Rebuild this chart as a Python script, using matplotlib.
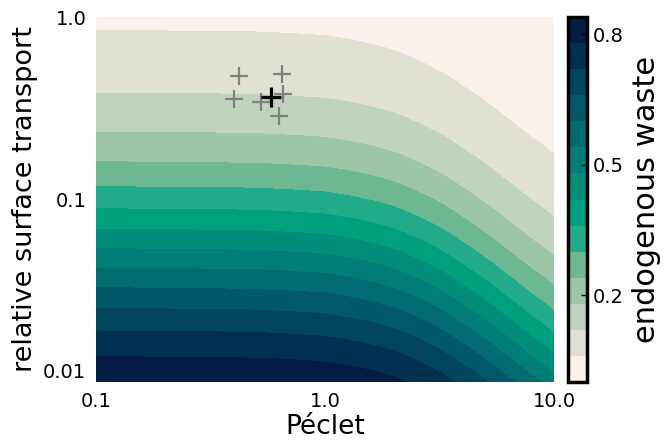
import numpy as np
import matplotlib
matplotlib.use("Agg")
import matplotlib.pyplot as plt

# Péclet columns read off the picture and how much the contours drop there
# (relative to the flat left-hand part of the plot)
peclet = [0.1, 0.5, 1.0, 1.5, 2.0, 2.5, 3.0, 4.0, 5.0, 6.0, 7.0, 8.0, 10.0]
drop = [1.0, 1.02, 1.07, 1.17, 1.29, 1.45, 1.62, 2.03, 2.46, 2.93, 3.40, 3.88, 4.8]
# band edges on the left side fit z = (1 + base_rate*r)^-power
base_rate = 21.7
power = 0.95

levels = [0.0, 0.06, 0.12, 0.18, 0.24, 0.30, 0.36, 0.42, 0.48, 0.54, 0.60, 0.66, 0.72, 0.78, 0.84]
band_colors = ["#faf1ec", "#e0e0d3", "#c0d3bc", "#9dc6a6", "#6db893", "#22ab88", "#00a07f",
               "#008e7b", "#007d77", "#006b70", "#005868", "#00455c", "#00304f", "#041c43"]
cbar_ticks = [0.2, 0.5, 0.8]

# sample points (Péclet, relative surface transport)
samples_pe = [0.421, 0.647, 0.401, 0.526, 0.658, 0.631]
samples_r = [0.476, 0.488, 0.355, 0.344, 0.380, 0.288]
mean_pe = [0.581]
mean_r = [0.364]

transport = np.logspace(-2, 0, 300)
P, R = np.meshgrid(peclet, transport)
D = np.meshgrid(drop, transport)[0]
waste = (1.0 + base_rate * D * R) ** (-power)

fig = plt.figure(figsize=(6.65, 4.43), dpi=100)
ax = fig.add_axes([96/665, 1 - 382/443, 458/665, 365/443])
cax = fig.add_axes([568/665, 1 - 382/443, 19/665, 365/443])

cs = ax.contourf(P, R, waste, levels=levels, colors=band_colors, antialiased=False)
ax.set_xscale("log")
ax.set_yscale("log")
ax.set_xlim(0.1, 10)
ax.set_ylim(0.01, 1.0)

ax.plot(samples_pe, samples_r, "+", color="#808080", ms=13, mew=1.6)
ax.plot(mean_pe, mean_r, "+", color="black", ms=14, mew=2.3)

ax.set_xticks([0.1, 1.0, 10.0])
ax.set_xticklabels(["0.1", "1.0", "10.0"])
ax.set_yticks([0.01, 0.1, 1.0])
ax.set_yticklabels(["0.01", "0.1", "1.0"])
ax.minorticks_off()
ax.tick_params(length=0, labelsize=14, pad=7)
for s in ax.spines.values():
    s.set_visible(False)
ax.get_yticklabels()[0].set_va("bottom")

ax.set_xlabel("Péclet", fontsize=19, labelpad=2)
ax.set_ylabel("relative surface transport", fontsize=19.5, labelpad=4)

cb = fig.colorbar(cs, cax=cax, ticks=cbar_ticks)
cb.ax.set_yticklabels(["0.2", "0.5", "0.8"])
cb.ax.tick_params(length=4, width=1, direction="in", labelsize=14, pad=4)
cb.outline.set_linewidth(2.5)
cb.outline.set_edgecolor("black")
cb.set_label("endogenous waste", fontsize=22, labelpad=6)

fig.savefig("out.png", dpi=100)
